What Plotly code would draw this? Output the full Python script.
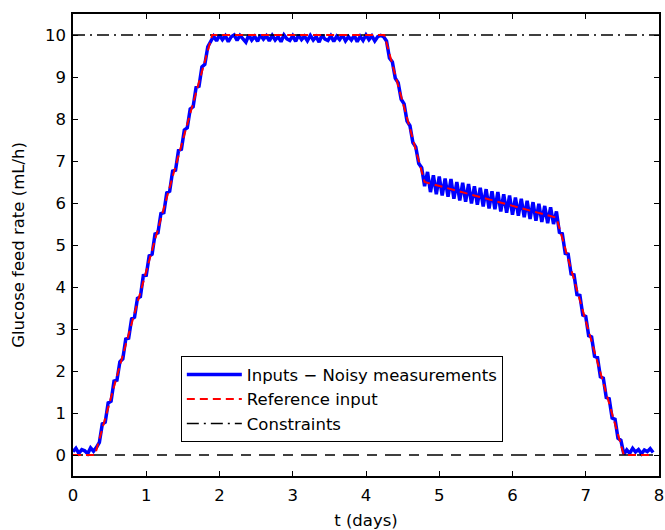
import plotly.graph_objects as go

# --- data ---------------------------------------------------------------
t_start = 0.0
t_step = 0.04
n_samples = 199
t_meas = [round(t_start + t_step * i, 2) for i in range(n_samples)]

noisy_input = [
    0.08, 0.16, 0.04, 0.13, 0.10, 0.03, 0.17, 0.09,
    0.18, 0.30, 0.74, 0.78, 1.24, 1.28, 1.76, 1.78, 2.22, 2.29,
    2.76, 2.78, 3.24, 3.28, 3.73, 3.77, 4.27, 4.28, 4.74, 4.78,
    5.26, 5.29, 5.75, 5.77, 6.24, 6.28, 6.76, 6.78, 7.25, 7.28,
    7.74, 7.79, 8.24, 8.29, 8.75, 8.78, 9.24, 9.30, 9.72, 9.83,
    9.97, 9.86, 10.0, 9.89, 9.98, 9.84, 9.96, 10.0, 9.87, 9.99,
    9.92, 9.83, 10.0, 9.88, 9.97, 9.85, 10.0, 9.90, 9.98, 9.86,
    9.99, 9.88, 9.96, 9.84, 10.0, 9.91, 9.87, 9.98, 9.85, 10.0,
    9.89, 9.97, 9.86, 9.99, 9.88, 9.96, 9.83, 10.0, 9.90, 9.87,
    9.98, 9.85, 9.97, 9.89, 10.0, 9.86, 9.96, 9.88, 9.99, 9.84,
    9.97, 9.87, 10.0, 9.89, 9.98, 9.86, 9.96, 9.99,
    9.96, 9.86, 9.45, 9.36, 8.97, 8.86, 8.47, 8.36, 7.95, 7.84,
    7.44, 7.33, 6.94, 6.84, 6.40,
    6.74, 6.26, 6.66, 6.21, 6.63, 6.18, 6.58, 6.15, 6.57, 6.10,
    6.50, 6.06, 6.48, 6.03, 6.45, 5.99, 6.40, 5.96, 6.36, 5.92,
    6.33, 5.87, 6.28, 5.85, 6.26, 5.80, 6.21, 5.77, 6.18, 5.72,
    6.13, 5.70, 6.10, 5.66, 6.05, 5.62, 6.02, 5.58, 5.98, 5.55,
    5.93, 5.52, 5.90, 5.50,
    5.80, 5.30, 5.27, 4.80, 4.78, 4.31, 4.29, 3.82, 3.80, 3.33,
    3.30, 2.84, 2.81, 2.35, 2.32, 1.86, 1.83, 1.37, 1.34, 0.88,
    0.85, 0.40, 0.35, 0.02,
    0.12, 0.04, 0.16, 0.07, 0.13, 0.03, 0.12, 0.08, 0.15, 0.06,
]

t_ref = [0.0, 0.3, 1.9, 4.25, 4.8, 6.6, 7.52, 7.88]
ref_input = [0.0, 0.0, 10.0, 10.0, 6.5, 5.65, 0.0, 0.0]

t_con = [0, 8]
upper_con = [10, 10]
lower_con = [0, 0]

x_ticks = [0, 1, 2, 3, 4, 5, 6, 7, 8]
y_ticks = [0, 1, 2, 3, 4, 5, 6, 7, 8, 9, 10]

# --- figure -------------------------------------------------------------
FONT = "DejaVu Sans, Arial, sans-serif"
FS = 16.5
fig = go.Figure()

fig.add_trace(go.Scatter(
    x=t_meas, y=noisy_input, mode="lines",
    line=dict(color="#0000FF", width=3.5),
    name="Inputs \u2212 Noisy measurements", legendrank=1))

fig.add_trace(go.Scatter(
    x=t_con, y=upper_con, mode="lines",
    line=dict(color="black", width=1.5, dash="12px,5px,2px,5px"),
    name="Constraints", legendrank=3))
fig.add_trace(go.Scatter(
    x=t_con, y=lower_con, mode="lines",
    line=dict(color="black", width=1.5, dash="10px,8px,16px,8px"),
    name="Constraints", showlegend=False))

fig.add_trace(go.Scatter(
    x=t_ref, y=ref_input, mode="lines",
    line=dict(color="#FF0000", width=2, dash="8px,5px"),
    name="Reference input", legendrank=2))

axis_common = dict(
    showline=True, linecolor="black", linewidth=1.5, mirror="ticks",
    ticks="inside", ticklen=5, tickwidth=1, tickcolor="black",
    showgrid=False, zeroline=False, automargin=False,
    ticklabeloverflow="allow",
    tickfont=dict(family=FONT, size=FS, color="black"),
)

fig.update_xaxes(range=[0, 8], tickvals=x_ticks, ticklabelstandoff=3,
                 title=dict(text="t (days)", font=dict(family=FONT, size=FS, color="black"),
                            standoff=12),
                 **axis_common)
fig.update_yaxes(range=[-0.5, 10.5], tickvals=y_ticks, ticklabelstandoff=2,
                 title=dict(text="Glucose feed rate (mL/h)",
                            font=dict(family=FONT, size=FS, color="black"),
                            standoff=16),
                 **axis_common)

fig.update_layout(
    width=665, height=530,
    margin=dict(l=73, r=6, t=14, b=54, autoexpand=False),
    paper_bgcolor="white", plot_bgcolor="white",
    font=dict(family=FONT, size=FS, color="black"),
    showlegend=True,
    legend=dict(x=0.184, y=0.259, xanchor="left", yanchor="top",
                bordercolor="black", borderwidth=1, bgcolor="white",
                font=dict(family=FONT, size=FS, color="black"),
                itemwidth=55, tracegroupgap=0),
)

fig.write_html("out.html")
